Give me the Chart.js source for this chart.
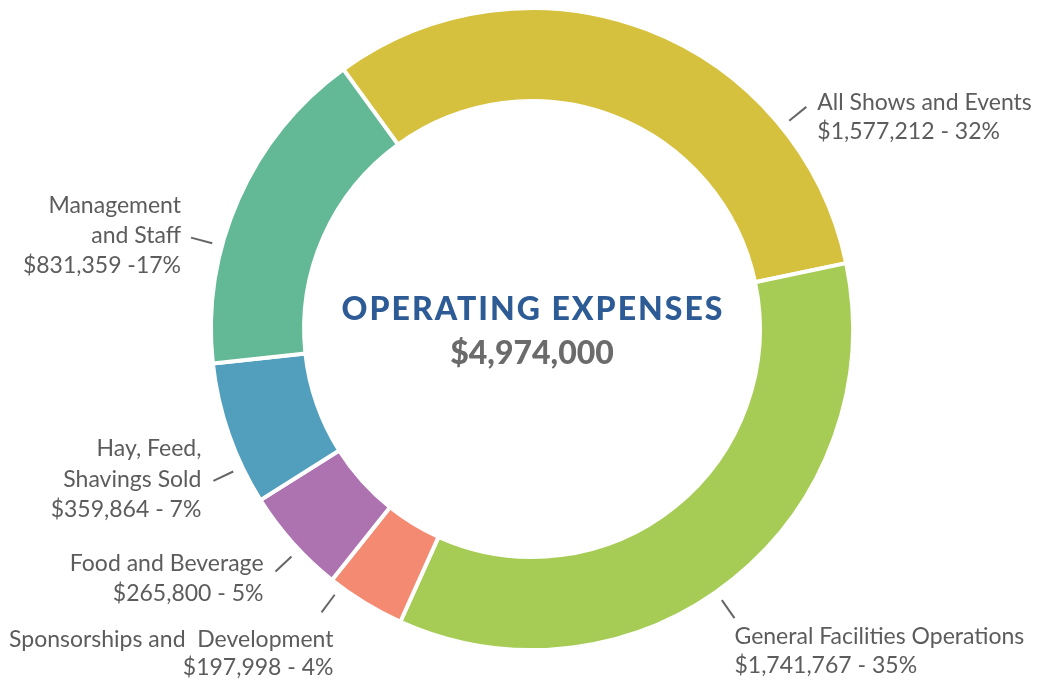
<!DOCTYPE html>
<html>
<head>
<meta charset="utf-8">
<title>Operating Expenses</title>
<script src="https://cdn.jsdelivr.net/npm/chart.js@4"></script>
<style>
  html, body { margin: 0; padding: 0; background: #fff; }
  #wrap { width: 1043px; height: 683px; }
</style>
</head>
<body>
<div id="wrap"><canvas id="expenses-chart" width="1043" height="683"></canvas></div>
<script>
// Expense categories, clockwise from the top
const categories = [
  'All Shows and Events',
  'General Facilities Operations',
  'Sponsorships and  Development',
  'Food and Beverage',
  'Hay, Feed, Shavings Sold',
  'Management and Staff'
];
const amounts = [1577212, 1741767, 197998, 265800, 359864, 831359];
const sliceColors = ['#D6C13F', '#A6CC55', '#F48A72', '#AD72B0', '#529FBD', '#63B895'];

// How each outside label is broken into lines
const labelLines = [
  ['All Shows and Events'],
  ['General Facilities Operations'],
  ['Sponsorships and  Development'],
  ['Food and Beverage'],
  ['Hay, Feed,', 'Shavings Sold'],
  ['Management', 'and Staff']
];
const valueSeparators = [' - ', ' - ', ' - ', ' - ', ' - ', ' -'];

// Label placement: leader angle (deg, clockwise from top), text alignment,
// offset of the text from the leader end, and line offsets
const labelLayout = [
  { angle: 51,    align: 'left',  dx: 11,  dy: [-4, 25] },
  { angle: 145,   align: 'left',  dx: 0,   dy: [18, 47] },
  { angle: 216.6, align: 'right', dx: 12,  dy: [27, 55] },
  { angle: 226.6, align: 'right', dx: -12, dy: [-8, 22] },
  { angle: 244.5, align: 'right', dx: -12, dy: [-32, -1, 29] },
  { angle: 285,   align: 'right', dx: -10, dy: [-32, -2, 28] }
];

const total = amounts.reduce((a, b) => a + b, 0);
const money = v => '$' + v.toLocaleString('en-US');
const SLICE_BORDER = 4;

// Leader lines and outside labels
const outsideLabels = {
  id: 'outsideLabels',
  afterDatasetsDraw(chart) {
    const { ctx } = chart;
    const meta = chart.getDatasetMeta(0);
    const arc0 = meta.data[0];
    const cx = arc0.x, cy = arc0.y;
    const r = arc0.outerRadius - SLICE_BORDER / 2;

    ctx.save();
    ctx.font = '23px Lato';
    ctx.fillStyle = '#5c5c5c';
    ctx.textBaseline = 'middle';
    ctx.strokeStyle = '#666666';
    ctx.lineWidth = 2;

    labelLayout.forEach((lay, i) => {
      const a = lay.angle * Math.PI / 180;
      const sx = cx + Math.sin(a) * (r + 12), sy = cy - Math.cos(a) * (r + 12);
      const ex = cx + Math.sin(a) * (r + 34), ey = cy - Math.cos(a) * (r + 34);
      ctx.beginPath();
      ctx.moveTo(sx, sy);
      ctx.lineTo(ex, ey);
      ctx.stroke();

      const pct = Math.round(amounts[i] / total * 100);
      const lines = labelLines[i].concat(money(amounts[i]) + valueSeparators[i] + pct + '%');
      ctx.textAlign = lay.align;
      lines.forEach((line, j) => {
        ctx.fillText(line, ex + lay.dx, ey + lay.dy[j]);
      });
    });
    ctx.restore();
  }
};

// Title and total in the hole of the doughnut
const centerText = {
  id: 'centerText',
  afterDatasetsDraw(chart) {
    const { ctx } = chart;
    const arc0 = chart.getDatasetMeta(0).data[0];
    ctx.save();
    ctx.textAlign = 'center';
    ctx.textBaseline = 'middle';
    ctx.fillStyle = '#2D5B96';
    ctx.font = '900 32px Lato';
    ctx.letterSpacing = '2px';
    ctx.fillText('OPERATING EXPENSES', arc0.x + 1, arc0.y - 19);
    ctx.letterSpacing = '0px';
    ctx.fillStyle = '#6b6b6b';
    ctx.font = '900 32px Lato';
    ctx.fillText(money(total), arc0.x, arc0.y + 25);
    ctx.restore();
  }
};

new Chart(document.getElementById('expenses-chart'), {
  type: 'doughnut',
  data: {
    labels: categories,
    datasets: [{
      data: amounts,
      backgroundColor: sliceColors,
      borderColor: '#ffffff',
      borderWidth: SLICE_BORDER
    }]
  },
  options: {
    responsive: false,
    animation: false,
    rotation: -36,
    cutout: '71%',
    layout: { padding: { left: 209, right: 188, top: 6, bottom: 31 } },
    plugins: {
      legend: { display: false },
      tooltip: { enabled: false }
    },
    events: []
  },
  plugins: [outsideLabels, centerText]
});
</script>
</body>
</html>
